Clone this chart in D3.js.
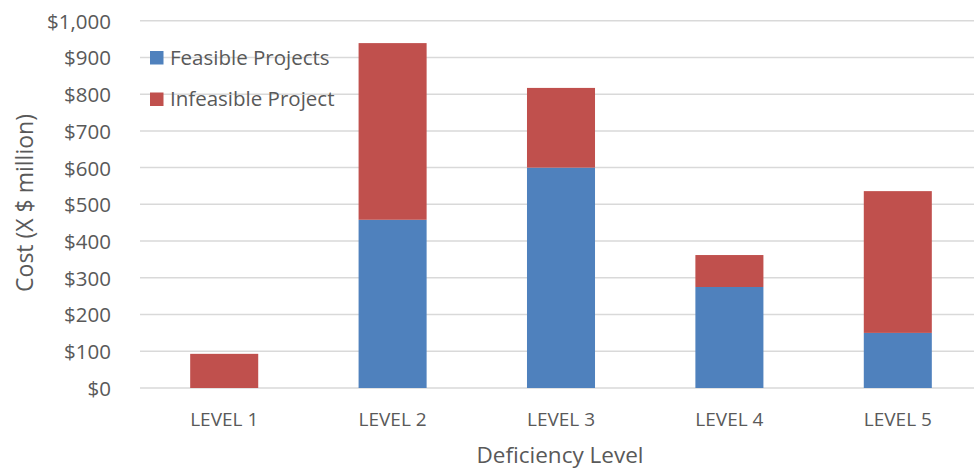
<!DOCTYPE html>
<html><head><meta charset="utf-8">
<script src="https://cdn.jsdelivr.net/npm/d3@7"></script>
<style>body{margin:0;background:#fff}svg{display:block;font-family:"Open Sans",sans-serif}</style>
</head><body><svg id="c" width="974" height="470"></svg>
<script>
const categories = ["LEVEL 1","LEVEL 2","LEVEL 3","LEVEL 4","LEVEL 5"];
const feasible = [0, 458, 600, 275, 150];
const infeasible = [93, 481, 217, 87, 386];
const seriesNames = ["Feasible Projects","Infeasible Project"];
const seriesColors = ["#4f81bd","#c0504d"];
const yTicks = [0,100,200,300,400,500,600,700,800,900,1000];

(function(){
const svg = d3.select("#c");
const pLeft = 140, pRight = 982, pTop = 20.7, pBottom = 388;
const x = d3.scaleBand().domain(categories).range([pLeft, pRight]).paddingInner(0.596).paddingOuter(0.298);
const y = d3.scaleLinear().domain([0,1000]).range([pBottom, pTop]);

svg.append("g").selectAll("line").data(yTicks).join("line")
  .attr("x1", pLeft).attr("x2", 974).attr("y1", d=>y(d)).attr("y2", d=>y(d))
  .attr("stroke", "#d9d9d9").attr("stroke-width", 1.5);

const yAxis = d3.axisLeft(y).tickValues(yTicks).tickSize(0).tickPadding(0)
  .tickFormat(d => "$" + d3.format(",")(d));
const gy = svg.append("g").attr("transform", `translate(111,0)`).call(yAxis);
gy.select(".domain").remove();
gy.selectAll("text").attr("fill","#595959").style("font-size","20.5px").style("font-family","'Open Sans',sans-serif").attr("dy","0.36em");

const data = categories.map((c,i)=>({cat:c, f:feasible[i], inf:infeasible[i]}));
const stack = d3.stack().keys(["f","inf"])(data);
svg.append("g").selectAll("g").data(stack).join("g").attr("fill",(d,i)=>seriesColors[i])
  .selectAll("rect").data(d=>d).join("rect")
  .attr("x", d=>x(d.data.cat)).attr("width", x.bandwidth())
  .attr("y", d=>y(d[1])).attr("height", d=>y(d[0])-y(d[1]));

const xAxis = d3.axisBottom(x).tickSize(0).tickPadding(0);
const gx = svg.append("g").attr("transform", `translate(0,${pBottom})`).call(xAxis);
gx.select(".domain").remove();
gx.selectAll("text").attr("fill","#595959").style("font-size","19px").style("font-family","'Open Sans',sans-serif").attr("dy","0").attr("y",38);

svg.append("text").attr("x", 560).attr("y", 463).attr("text-anchor","middle")
  .attr("fill","#595959").style("font-size","22.5px").text("Deficiency Level");
svg.append("text").attr("transform","translate(33,203) rotate(-90)").attr("text-anchor","middle")
  .attr("fill","#595959").style("font-size","23px").text("Cost (X $ million)");

const lg = svg.append("g").selectAll("g").data(seriesNames).join("g")
  .attr("transform",(d,i)=>`translate(150,${57.5 + i*41.5})`);
lg.append("rect").attr("x",0).attr("y",-6.5).attr("width",13.5).attr("height",13.5).attr("fill",(d,i)=>seriesColors[i]);
lg.append("text").attr("x",20).attr("dy","0.36em").attr("fill","#595959").style("font-size","20.5px").text(d=>d);
})();
</script></body></html>
